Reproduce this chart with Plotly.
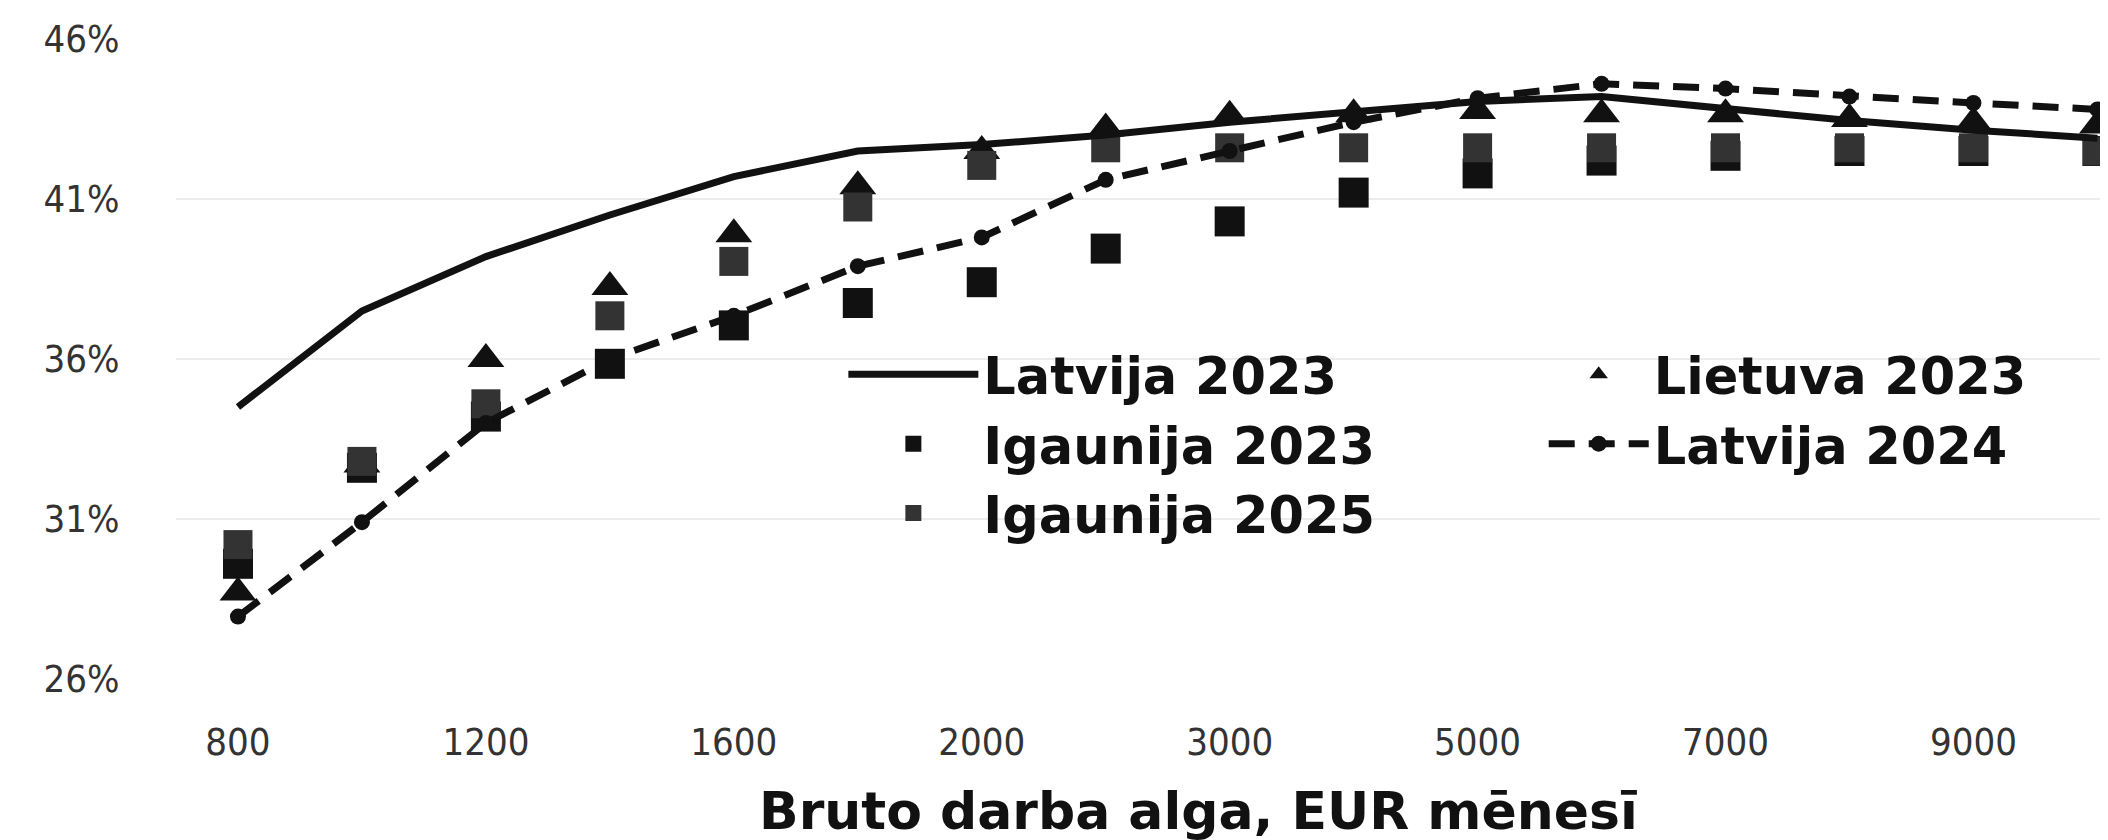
import plotly.graph_objects as go

categories = ["800", "1000", "1200", "1400", "1600", "1800", "2000", "2500",
              "3000", "4000", "5000", "6000", "7000", "8000", "9000", "10000"]
tick_labels = ["800", "1200", "1600", "2000", "3000", "5000", "7000", "9000"]
y_ticks = [26, 31, 36, 41, 46]
y_tick_labels = ["26%", "31%", "36%", "41%", "46%"]

latvija_2023 = [34.5, 37.5, 39.2, 40.5, 41.7, 42.5, 42.7, 43.0,
                43.4, 43.7, 44.05, 44.2, 43.8, 43.45, 43.15, 42.9]
latvija_2024 = [27.95, 30.9, 34.0, 36.0, 37.35, 38.9, 39.8, 41.6,
                42.5, 43.4, 44.15, 44.6, 44.45, 44.2, 44.0, 43.8]
lietuva_2023 = [28.7, 32.7, 36.0, 38.25, 39.9, 41.4, 42.5, 43.2,
                43.6, 43.65, 43.75, 43.65, 43.65, 43.5, 43.4, 43.3]
igaunija_2023 = [29.6, 32.6, 34.2, 35.85, 37.05, 37.75, 38.4, 39.45,
                 40.3, 41.2, 41.8, 42.2, 42.35, 42.5, 42.5, 42.5]
igaunija_2025 = [30.2, 32.8, 34.6, 37.35, 39.05, 40.75, 42.05, 42.6,
                 42.6, 42.6, 42.6, 42.6, 42.6, 42.6, 42.6, 42.5]

legend_font = dict(family="DejaVu Sans", size=51, color="#111111", weight="bold")

fig = go.Figure()

fig.add_trace(go.Scatter(
    x=categories, y=lietuva_2023, name="Lietuva 2023", mode="markers",
    marker=dict(symbol="triangle-up", size=32, color="#111111"),
    legend="legend2", legendrank=1))
fig.add_trace(go.Scatter(
    x=categories, y=igaunija_2023, name="Igaunija 2023", mode="markers",
    marker=dict(symbol="square", size=30, color="#111111"),
    legend="legend", legendrank=2))
fig.add_trace(go.Scatter(
    x=categories, y=igaunija_2025, name="Igaunija 2025", mode="markers",
    marker=dict(symbol="square", size=29, color="#333333"),
    legend="legend", legendrank=3))
fig.add_trace(go.Scatter(
    x=categories, y=latvija_2024, name="Latvija 2024", mode="lines+markers",
    line=dict(color="#111111", width=7, dash="26px,14px"),
    marker=dict(symbol="circle", size=16, color="#111111"),
    legend="legend2", legendrank=2))
fig.add_trace(go.Scatter(
    x=categories, y=latvija_2023, name="Latvija 2023", mode="lines",
    line=dict(color="#111111", width=7),
    legend="legend", legendrank=1))

fig.update_layout(
    width=2108, height=840,
    margin=dict(l=168, r=0, t=31, b=169),
    paper_bgcolor="white", plot_bgcolor="white",
    font=dict(family="DejaVu Sans", color="#222222"),
    legend=dict(x=0.344, y=0.538, xanchor="left", yanchor="top",
                bgcolor="rgba(0,0,0,0)", font=legend_font,
                itemwidth=130, tracegroupgap=0),
    legend2=dict(x=0.705, y=0.538, xanchor="left", yanchor="top",
                 bgcolor="rgba(0,0,0,0)", font=legend_font,
                 itemwidth=100, tracegroupgap=0),
    showlegend=True,
)

fig.update_xaxes(
    type="category", categoryorder="array", categoryarray=categories,
    range=[-0.5, 15.15],
    tickmode="array", tickvals=tick_labels, ticktext=tick_labels,
    ticks="outside", ticklen=29, tickcolor="rgba(0,0,0,0)",
    tickfont=dict(family="DejaVu Sans Condensed, DejaVu Sans", size=38, color="#333333"),
    showgrid=False, showline=False, zeroline=False,
)
fig.update_yaxes(
    range=[26, 46],
    tickmode="array", tickvals=y_ticks, ticktext=y_tick_labels,
    ticks="outside", ticklen=48, tickcolor="rgba(0,0,0,0)",
    tickfont=dict(family="DejaVu Sans Condensed, DejaVu Sans", size=38, color="#333333"),
    showgrid=True, gridcolor="#ececec", gridwidth=2,
    showline=False, zeroline=False,
)

fig.add_annotation(
    text="<b>Bruto darba alga, EUR mēnesī</b>",
    xref="paper", yref="paper", x=0.527, y=-0.207,
    xanchor="center", yanchor="middle", showarrow=False,
    font=dict(family="DejaVu Sans", size=52, color="#111111"),
)

fig.write_html("out.html")
